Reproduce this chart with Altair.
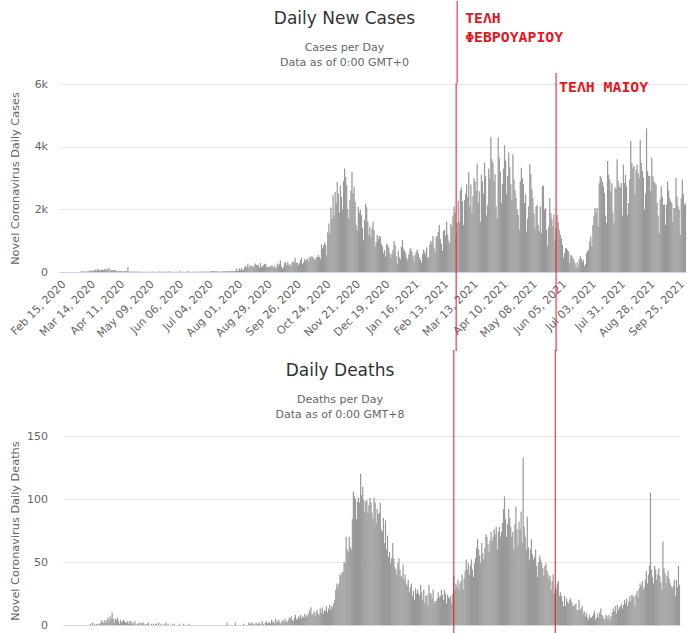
import altair as alt
import pandas as pd

START = "2020-02-15"

# ---------------- Daily new cases (one value per day from Feb 15, 2020) ----------------
cases_2020_02 = [0,0,0,0,0,0,0,0,0,0,0,1,2,1,3]
cases_2020_03 = [0,0,0,2,1,14,13,22,11,16,10,18,27,38,38,24,56,31,46,77,35,94,71,48,52,78,71,60,95,56,102]
cases_2020_04 = [50,129,33,62,58,60,62,56,34,20,21,25,24,28,19,16,28,30,20,156,10,14,17,10,7,14,10,15,11,9]
cases_2020_05 = [5,3,10,2,4,5,2,11,6,10,6,0,10,19,2,3,7,4,10,16,10,11,10,1,7,7,4,6,8,25,6]
cases_2020_06 = [2,0,3,6,5,2,15,0,28,5,2,4,3,6,1,30,4,3,5,3,4,12,8,11,6,8,4,9,8,11]
cases_2020_07 = [13,11,6,9,12,7,15,21,35,30,22,27,19,13,20,8,12,14,18,22,25,18,26,20,21,27,31,37,30,32,35]
cases_2020_08 = [110,43,44,121,60,124,55,79,154,203,150,262,136,206,204,158,176,203,269,235,216,210,140,284,168,175,220,264,256,159,151]
cases_2020_09 = [169,175,201,217,135,201,155,123,273,201,262,372,183,105,154,307,300,210,325,233,238,191,301,345,305,453,286,305,216,277]
cases_2020_10 = [384,460,248,306,411,359,402,430,336,494,452,508,461,407,388,470,469,542,476,410,882,750,842,935,865,544,1259,1547,1211,2056,1690]
cases_2020_11 = [2450,1800,2550,2200,2870,2500,1900,2760,2400,2000,2900,3300,3030,2770,2000,1700,2290,2600,3190,2500,2720,2250,1500,1335,2080,1900,1980,1810,1400,1020]
cases_2020_12 = [1660,2180,2070,1600,1200,1450,1130,1380,1600,1330,800,950,1180,1050,1150,1130,900,810,600,700,490,910,860,780,600,450,580,700,990,850,500]
cases_2021_01 = [262,680,470,400,810,1020,740,680,600,450,370,560,710,760,650,500,320,540,650,720,600,470,380,300,560,720,650,570,780,470,460]
cases_2021_02 = [880,1000,930,1150,780,620,1100,1150,1280,1500,1050,900,680,1300,1350,1160,1600,1200,1000,900,1550,1460,1800,2100,1900,1200,1560,2270]
cases_2021_03 = [1600,2600,2700,2250,1500,2300,2500,2800,2400,3190,2100,2790,1900,2420,3000,2900,2600,3460,2200,2580,1600,3100,2900,2500,3490,3060,1800,2150,3300,3000,4300]
cases_2021_04 = [3600,3490,2900,3120,2100,1700,4300,3650,3200,2200,2800,3300,4050,3550,2500,3060,3810,3340,2800,2300,3760,2960,2600,2370,2000,1830,1340,2900,3330,3000]
cases_2021_05 = [2800,2200,2480,1290,1700,2100,3440,3120,2650,2360,1870,1400,2090,2150,1500,1300,2090,1240,2740,2760,1990,2040,1350,820,1450,2360,1880,1700,1450,1830,980]
cases_2021_06 = [1400,1830,1600,1350,1190,1080,870,450,600,760,760,700,650,280,550,500,450,390,280,120,300,170,390,500,420,330,390,190,250,600]
cases_2021_07 = [680,710,980,1130,820,1500,1780,2040,1900,2040,1450,2830,3060,3000,2890,2740,2520,1800,1560,3540,3100,2950,2570,2830,1900,1560,2700,2640,3600,2900,2740]
cases_2021_08 = [2680,2840,1800,3430,2840,3100,2740,1830,2200,2950,4180,3490,3300,3380,2500,3270,3430,3160,3000,4220,3490,3220,3000,1990,2500,4580,3220,3060,3060,2600,3650]
cases_2021_09 = [3060,2900,2840,2790,2200,1800,1240,2310,2740,2400,2150,2150,1500,2150,2890,2600,2360,2250,2200,1600,2040,2040,3010,2400,2100,1990,1180,2360,2950,2500]
cases_2021_10 = [2150,2200]

# ---------------- Daily deaths (one value per day from Feb 15, 2020) ----------------
deaths_2020_02 = [0,0,0,0,0,0,0,0,0,0,0,0,0,0,0]
deaths_2020_03 = [0,0,0,0,0,0,0,0,0,0,0,1,0,2,0,1,0,1,1,0,1,2,4,2,2,4,2,4,6,3,7]
deaths_2020_04 = [5,10,5,2,5,4,6,3,1,4,2,3,4,3,2,2,3,1,3,3,1,2,1,3,0,1,1,2,0,2]
deaths_2020_05 = [1,2,0,1,0,1,2,0,0,1,0,1,0,1,1,0,2,0,1,0,0,1,0,2,0,1,0,0,0,1,0]
deaths_2020_06 = [1,0,0,0,0,1,0,0,0,1,0,0,0,0,1,0,0,0,0,0,0,0,0,0,0,0,0,0,0,0]
deaths_2020_07 = [0,0,0,0,0,0,0,0,0,0,0,0,0,0,0,0,0,0,0,0,0,2,0,0,0,0,0,0,0,2,0]
deaths_2020_08 = [0,0,0,0,0,0,1,0,0,0,0,2,1,1,2,1,1,0,2,1,1,2,1,0,3,1,0,2,3,1,2]
deaths_2020_09 = [2,1,4,2,3,1,5,2,3,4,2,1,3,4,2,5,3,2,4,6,5,7,4,3,6,8,5,4,7,6]
deaths_2020_10 = [8,5,7,6,9,6,8,7,10,12,14,8,9,11,7,10,12,9,8,13,10,14,9,12,11,15,10,13,16,12,15]
deaths_2020_11 = [14,17,20,28,33,30,33,40,39,42,42,50,49,70,60,58,70,62,60,84,106,102,100,84,98,101,97,120,103,110]
deaths_2020_12 = [99,90,98,99,89,95,101,97,89,84,101,97,81,92,88,89,97,76,74,85,65,83,60,71,54,58,49,53,65,53,46]
deaths_2021_01 = [44,40,49,53,44,39,38,48,36,40,33,31,36,26,30,33,23,27,20,29,25,28,25,23,32,26,20,28,17,23,24]
deaths_2021_02 = [15,32,25,25,21,28,17,19,19,21,26,22,23,28,24,20,28,25,17,24,22,21,23,17,25,39,28,33]
deaths_2021_03 = [30,36,28,33,35,40,28,37,43,52,44,49,40,47,52,44,38,49,53,61,68,60,55,49,65,57,52,61,72,70,64]
deaths_2021_04 = [58,67,74,66,70,76,72,78,60,74,78,70,74,81,92,102,84,70,80,92,85,78,70,74,60,80,94,76,63,82]
deaths_2021_05 = [76,90,65,133,78,70,60,86,62,52,60,68,56,52,54,60,47,38,50,55,52,49,45,39,47,49,43,40,36,39,28]
deaths_2021_06 = [35,40,25,30,28,33,35,23,26,23,19,15,23,15,21,18,17,20,21,18,15,15,16,17,12,12,20,12,13,15]
deaths_2021_07 = [9,11,7,10,6,4,8,6,6,7,9,11,4,6,9,6,10,13,8,7,5,4,8,7,5,8,4,7,10,13,11]
deaths_2021_08 = [15,9,16,12,14,15,17,13,16,20,17,21,15,18,23,19,24,22,23,15,24,27,22,29,33,31,35,28,30,36,43]
deaths_2021_09 = [33,40,47,105,44,38,33,47,44,36,40,45,39,34,28,66,45,41,33,39,43,37,33,31,29,31,36,23,36,30]
deaths_2021_10 = [47,32]

# ---------------- Axis tick labels, titles and annotations ----------------
tick_labels = ["2020-02-15", "2020-03-14", "2020-04-11", "2020-05-09", "2020-06-06", "2020-07-04",
               "2020-08-01", "2020-08-29", "2020-09-26", "2020-10-24", "2020-11-21", "2020-12-19",
               "2021-01-16", "2021-02-13", "2021-03-13", "2021-04-10", "2021-05-08", "2021-06-05",
               "2021-07-03", "2021-07-31", "2021-08-28", "2021-09-25"]
cases_ticks = [0, 2000, 4000, 6000]
deaths_ticks = [0, 50, 100, 150]
top_title = "Daily New Cases"
top_subtitle = ["Cases per Day", "Data as of 0:00 GMT+0"]
bot_title = "Daily Deaths"
bot_subtitle = ["Deaths per Day", "Data as of 0:00 GMT+8"]
mark_feb = "2021-02-26"
mark_may_top = "2021-06-01"
mark_may_bottom = "2021-06-04"
label_feb = ["ΤΕΛΗ", "ΦΕΒΡΟΥΑΡΙΟΥ"]
label_may = "ΤΕΛΗ ΜΑΙΟΥ"

cases = (cases_2020_02 + cases_2020_03 + cases_2020_04 + cases_2020_05 + cases_2020_06 +
         cases_2020_07 + cases_2020_08 + cases_2020_09 + cases_2020_10 + cases_2020_11 +
         cases_2020_12 + cases_2021_01 + cases_2021_02 + cases_2021_03 + cases_2021_04 +
         cases_2021_05 + cases_2021_06 + cases_2021_07 + cases_2021_08 + cases_2021_09 +
         cases_2021_10)
deaths = (deaths_2020_02 + deaths_2020_03 + deaths_2020_04 + deaths_2020_05 + deaths_2020_06 +
          deaths_2020_07 + deaths_2020_08 + deaths_2020_09 + deaths_2020_10 + deaths_2020_11 +
          deaths_2020_12 + deaths_2021_01 + deaths_2021_02 + deaths_2021_03 + deaths_2021_04 +
          deaths_2021_05 + deaths_2021_06 + deaths_2021_07 + deaths_2021_08 + deaths_2021_09 +
          deaths_2021_10)
n = min(len(cases), len(deaths))
dates = pd.date_range(START, periods=n, freq="D")
half = pd.Timedelta(hours=14)  # bars slightly wider than a day so neighbouring bars touch
df = pd.DataFrame({
    "start": (dates - half).strftime("%Y-%m-%dT%H:%M:%S"),
    "end": (dates + half).strftime("%Y-%m-%dT%H:%M:%S"),
    "cases": cases[:n],
    "deaths": deaths[:n],
})

def dt(ts):
    ts = pd.Timestamp(ts)
    return alt.DateTime(year=ts.year, month=ts.month, date=ts.day, hours=ts.hour)

x_domain = [dt(dates[0] - pd.Timedelta(hours=12)), dt(dates[-1] + pd.Timedelta(hours=12))]
tick_values = [dt(s) for s in tick_labels]

RED = "#e8141c"
BAR = "#999999"
FONT = "DejaVu Sans"

feb_df = pd.DataFrame({"start": [mark_feb + "T00:00:00"]})
may_top_df = pd.DataFrame({"start": [mark_may_top + "T00:00:00"]})
may_bot_df = pd.DataFrame({"start": [mark_may_bottom + "T00:00:00"]})

TOP_W, TOP_H = 627, 188
BOT_W, BOT_H = 621, 189

x_axis_top = alt.Axis(values=tick_values, format="%b %d, %Y", labelAngle=-45, grid=False, ticks=False,
                      domainColor="#ccd6eb", labelColor="#666666", labelFontSize=11, labelFont=FONT,
                      labelPadding=6, title=None, labelOverlap=False, labelBound=False,
                      labelSeparation=0)
x_axis_bot = alt.Axis(values=tick_values, labels=False, grid=False, ticks=False,
                      domainColor="#ccd6eb", title=None)

top_x = alt.X("start:T", scale=alt.Scale(domain=x_domain), axis=x_axis_top)
bot_x = alt.X("start:T", scale=alt.Scale(domain=x_domain, range=[4, BOT_W]), axis=x_axis_bot)

def title_layer(data, cx, title, subtitle):
    base = alt.Chart(data)
    common = dict(align="center", baseline="alphabetic", font=FONT)
    t = base.mark_text(fontSize=17, color="#333333", **common).encode(
        x=alt.value(cx), y=alt.value(-60.5), text=alt.value(title))
    s1 = base.mark_text(fontSize=11, color="#666666", **common).encode(
        x=alt.value(cx), y=alt.value(-33), text=alt.value(subtitle[0]))
    s2 = base.mark_text(fontSize=11, color="#666666", **common).encode(
        x=alt.value(cx), y=alt.value(-18.5), text=alt.value(subtitle[1]))
    return [t, s1, s2]

# ---------------- Top chart: daily new cases ----------------
top_bars = alt.Chart(df).mark_bar(color=BAR).encode(
    x=top_x,
    x2="end:T",
    y=alt.Y("cases:Q", scale=alt.Scale(domain=[0, 6000], nice=False),
            axis=alt.Axis(values=cases_ticks,
                          labelExpr="datum.value == 0 ? '0' : (datum.value / 1000) + 'k'",
                          title="Novel Coronavirus Daily Cases")),
    y2=alt.datum(0),
)
top_rule_a = alt.Chart(feb_df).mark_rule(color=RED, strokeWidth=1, xOffset=1).encode(
    x=top_x, y=alt.value(-83), y2=alt.value(-1))
top_rule_b = alt.Chart(feb_df).mark_rule(color=RED, strokeWidth=1).encode(
    x=top_x, y=alt.value(-1), y2=alt.value(267))
top_rule_c = alt.Chart(may_top_df).mark_rule(color=RED, strokeWidth=1).encode(
    x=top_x, y=alt.value(-11), y2=alt.value(267))
txt_style = dict(align="left", baseline="alphabetic", font="DejaVu Sans Mono", fontWeight="bold",
                 fontSize=14.8, color=RED)
top_txt1 = alt.Chart(feb_df).mark_text(dx=9, **txt_style).encode(
    x=top_x, y=alt.value(-61.3), text=alt.value(label_feb[0]))
top_txt2 = alt.Chart(feb_df).mark_text(dx=9, **txt_style).encode(
    x=top_x, y=alt.value(-42.3), text=alt.value(label_feb[1]))
top_txt3 = alt.Chart(may_top_df).mark_text(dx=3, **txt_style).encode(
    x=top_x, y=alt.value(7.5), text=alt.value(label_may))

top = alt.layer(top_bars, top_rule_a, top_rule_b, top_rule_c, top_txt1, top_txt2, top_txt3,
                *title_layer(feb_df, 285.5, top_title, top_subtitle)).properties(
    width=TOP_W, height=TOP_H)

# ---------------- Bottom chart: daily deaths ----------------
bot_bars = alt.Chart(df).mark_bar(color=BAR).encode(
    x=bot_x,
    x2="end:T",
    y=alt.Y("deaths:Q", scale=alt.Scale(domain=[0, 150], nice=False),
            axis=alt.Axis(values=deaths_ticks, title="Novel Coronavirus Daily Deaths")),
    y2=alt.datum(0),
)
bot_rule_a = alt.Chart(feb_df).mark_rule(color=RED, strokeWidth=1).encode(
    x=bot_x, y=alt.value(-86), y2=alt.value(200))
bot_rule_b = alt.Chart(may_bot_df).mark_rule(color=RED, strokeWidth=1).encode(
    x=bot_x, y=alt.value(-86), y2=alt.value(200))

bottom = alt.layer(bot_bars, bot_rule_a, bot_rule_b,
                   *title_layer(feb_df, 281, bot_title, bot_subtitle)).properties(
    width=BOT_W, height=BOT_H)

chart = alt.vconcat(top, bottom, spacing=-3).resolve_scale(x="independent").properties(
    padding={"left": 8, "top": 0, "right": 0, "bottom": 0},
).configure(font=FONT).configure_view(stroke=None).configure_axis(
    gridColor="#e6e6e6", labelColor="#666666", titleColor="#666666", labelFontSize=11,
    titleFontSize=11.3, titleFontWeight="normal", labelFont=FONT, titleFont=FONT,
    domain=True, ticks=False, labelPadding=11.5,
).configure_axisY(domain=False, titleX=-44, titleBaseline="middle", titleAngle=-90)

chart.save("out.html", embed_options={"renderer": "svg", "actions": False})
